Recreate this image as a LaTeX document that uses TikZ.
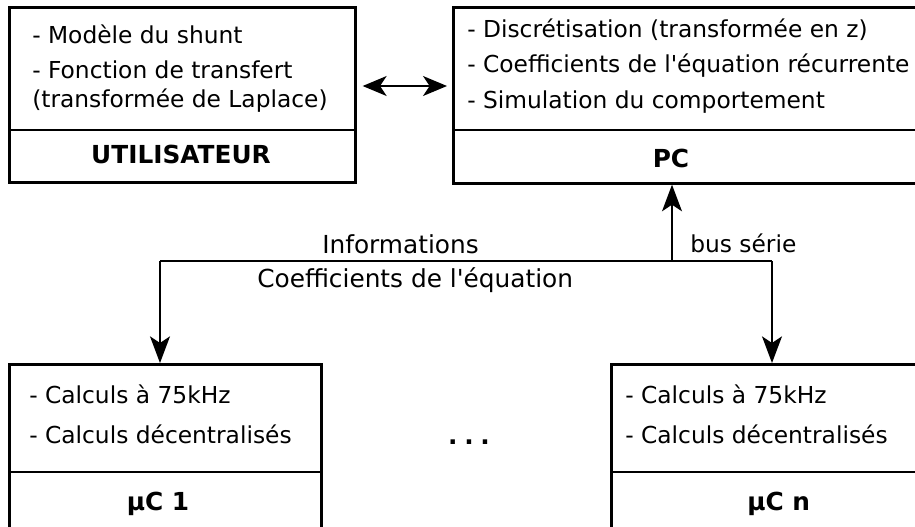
\documentclass[tikz,border=0pt]{standalone}
\usepackage{fontspec}
\newfontfamily\dv{DejaVu Sans}
\usetikzlibrary{arrows.meta}
\begin{document}
\begin{tikzpicture}[x=0.75pt,y=-0.75pt,
  boxshape/.style={draw, line width=2pt, anchor=north west, inner sep=0pt},
  divider/.style={line width=2pt},
  conn/.style={line width=1.1pt, -{Stealth[length=20pt,width=15pt,inset=5pt]}},
  dconn/.style={line width=1.1pt, {Stealth[length=18pt,width=15pt,inset=5pt]}-{Stealth[length=18pt,width=15pt,inset=5pt]}},
  bus/.style={line width=1.1pt},
  txt/.style={anchor=base west, inner sep=0pt, font=\dv\fontsize{17.5}{21}\selectfont},
  lbl/.style={anchor=base west, inner sep=0pt, font=\dv\fontsize{18.6}{22}\selectfont},
  title/.style={anchor=base, inner sep=0pt, font=\dv\fontsize{18.6}{22}\selectfont\bfseries}]
\useasboundingbox (0,0) rectangle (915,526);
\clip (0,0) rectangle (915,526);

% boxes
\node[boxshape, minimum width=259.5pt, minimum height=131.25pt] (user) at (8,6) {};
\node[boxshape, minimum width=356pt, minimum height=132pt] (pc) at (452,6) {};
\node[boxshape, minimum width=234pt, minimum height=135pt] (mc1) at (8,363) {};
\node[boxshape, minimum width=234pt, minimum height=135pt] (mcn) at (610,363) {};

% dividers
\draw[divider] ([shift={(0,124)}]user.north west) -- ([shift={(0,124)}]user.north east);
\draw[divider] ([shift={(0,124)}]pc.north west) -- ([shift={(0,124)}]pc.north east);
\draw[divider] ([shift={(0,109)}]mc1.north west) -- ([shift={(0,109)}]mc1.north east);
\draw[divider] ([shift={(0,109)}]mcn.north west) -- ([shift={(0,109)}]mcn.north east);

% user texts
\node[txt] (u1) at (32,43) {- Modèle du shunt};
\node[txt] (u2) at (32,78) {- Fonction de transfert};
\node[txt] (u3) at (32,107) {(transformée de Laplace)};
\node[title] (ut) at (181,163) {UTILISATEUR};

% pc texts
\node[txt] (p1) at (467,37) {- Discrétisation (transformée en z)};
\node[txt] (p2) at (467,72) {- Coefficients de l'équation récurrente};
\node[txt] (p3) at (467,108) {- Simulation du comportement};
\node[title] (pt) at (671,167) {PC};

% microcontroller texts
\node[txt] (a1) at (29,403) {- Calculs à 75kHz};
\node[txt] (a2) at (29,443) {- Calculs décentralisés};
\node[title] (at) at (158,510) {µC 1};
\node[txt] (b1) at (625,403) {- Calculs à 75kHz};
\node[txt] (b2) at (625,443) {- Calculs décentralisés};
\node[title, anchor=base west] (bt) at (747,510) {µC n};

\node[title] (dots) at (469,444) {.\hspace{5pt}.\hspace{5pt}.};

% connectors
\draw[dconn] ([shift={(6,80)}]user.north east) -- ([shift={(-5,80)}]pc.north west);
\coordinate (j) at (672,261);
\coordinate (l) at (160,261);
\coordinate (r) at (772,261);
\draw[bus] (l) -- (r);
\draw[conn] (j) -- (j |- pc.south);
\draw[conn] (l) -- (l |- mc1.north);
\draw[conn] (r) -- (r |- mcn.north);

% bus labels
\node[lbl] (info) at (322,253) {Informations};
\node[lbl] (coef) at (257,287) {Coefficients de l'équation};
\node[txt] (bs) at (690,252) {bus série};
\end{tikzpicture}
\end{document}
